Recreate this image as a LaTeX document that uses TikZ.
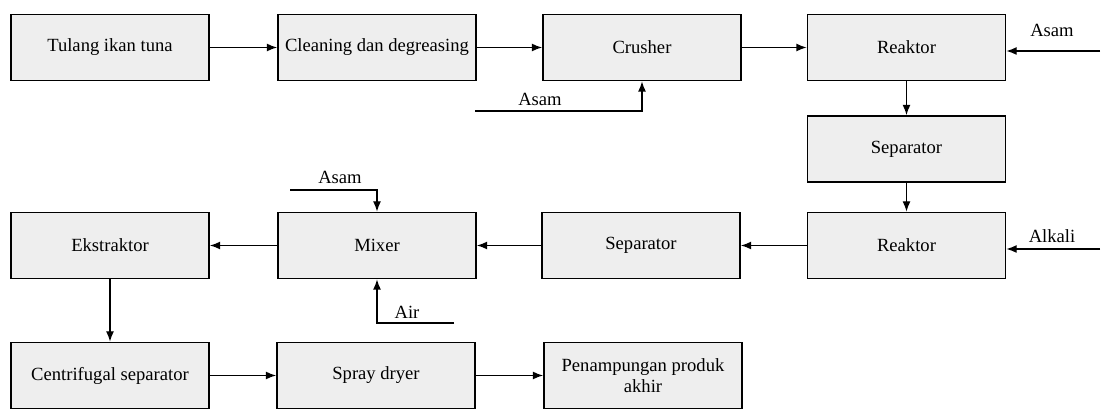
\documentclass[tikz,border=0pt]{standalone}
\usepackage{fontspec}
\setmainfont{Liberation Serif}
\usetikzlibrary{arrows.meta}

\tikzset{
  proses/.style={draw=black, fill=gray!13, line width=0.8pt,
    minimum width=99pt, minimum height=33pt, inner sep=1pt,
    align=center, font=\fontsize{9.3}{10.5}\selectfont},
  alir/.style={-{Latex[length=5.2pt,width=4pt]}, line width=0.7pt},
  bahan/.style={font=\fontsize{9.3}{10.5}\selectfont, inner sep=0pt}
}

\begin{document}
\begin{tikzpicture}[x=0.5pt,y=-0.5pt]
\useasboundingbox (0,0) rectangle (1109,410);

% Baris pertama
\node[proses] (tulang) at (110,47.5) {Tulang ikan tuna};
\node[proses] (cleaning) at (377,47.5) {Cleaning dan degreasing};
\node[proses] (crusher) at (642,47.5) {Crusher};
\node[proses] (reaktorA) at (906.5,47.5) {Reaktor};

% Separator di kanan
\node[proses] (separatorA) at (906.5,149) {Separator};

% Baris kedua
\node[proses] (reaktorB) at (906.5,245.5) {Reaktor};
\node[proses] (separatorB) at (641,245.5) {Separator};
\node[proses] (mixer) at (377,245.5) {Mixer};
\node[proses] (ekstraktor) at (110,245.5) {Ekstraktor};

% Baris ketiga
\node[proses] (centrifugal) at (110,375.5) {Centrifugal separator};
\node[proses] (spray) at (376,375.5) {Spray dryer};
\node[proses] (penampungan) at (643,375.5) {Penampungan produk\\akhir};

% Aliran utama
\draw[alir] (tulang) -- (cleaning);
\draw[alir] (cleaning) -- (crusher);
\draw[alir] (crusher) -- (reaktorA);
\draw[alir] (reaktorA) -- (separatorA);
\draw[alir] (separatorA) -- (reaktorB);
\draw[alir] (reaktorB) -- (separatorB);
\draw[alir] (separatorB) -- (mixer);
\draw[alir] (mixer) -- (ekstraktor);
\draw[alir] (ekstraktor) -- (centrifugal);
\draw[alir] (centrifugal) -- (spray);
\draw[alir] (spray) -- (penampungan);

% Bahan tambahan
\coordinate (asamA) at (1100,51);
\coordinate (asamB) at (475,111);
\coordinate (asamC) at (290,190);
\coordinate (alkali) at (1100,249);
\coordinate (air) at (454,323);

\draw[alir] (asamA) -- (asamA -| reaktorA.east);
\draw[alir] (asamB) -| (crusher.south);
\draw[alir] (asamC) -| (mixer.north);
\draw[alir] (alkali) -- (alkali -| reaktorB.east);
\draw[alir] (air) -| (mixer.south);

\node[bahan] (tAsamA) at (1052,30) {Asam};
\node[bahan] (tAsamB) at (540,99) {Asam};
\node[bahan] (tAsamC) at (340,177) {Asam};
\node[bahan] (tAlkali) at (1052,236) {Alkali};
\node[bahan] (tAir) at (407,312) {Air};
\end{tikzpicture}
\end{document}
